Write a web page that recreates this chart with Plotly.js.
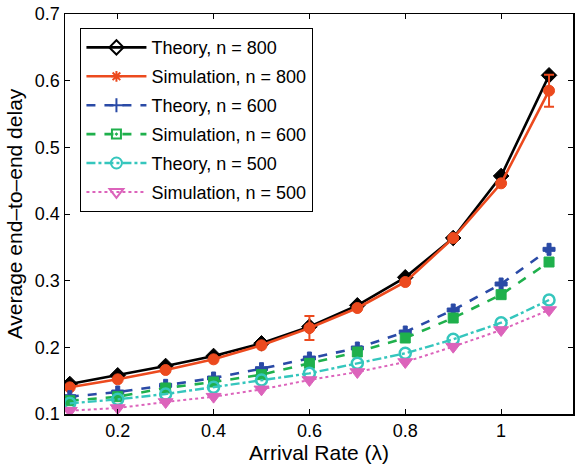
<!DOCTYPE html>
<html>
<head>
<meta charset="utf-8">
<script src="https://cdn.plot.ly/plotly-3.0.1.min.js"></script>
<style>html,body{margin:0;padding:0;background:#fff;}#chart{width:575px;height:468px;}</style>
</head>
<body>
<div id="chart"></div>
<script>
const lambdaVals = [0.1, 0.2, 0.3, 0.4, 0.5, 0.6, 0.7, 0.8, 0.9, 1.0, 1.1];
const theory800 = [0.145, 0.158, 0.172, 0.187, 0.206, 0.231, 0.263, 0.305, 0.364, 0.457, 0.608];
const sim800    = [0.140, 0.152, 0.166, 0.182, 0.203, 0.229, 0.259, 0.298, 0.364, 0.446, 0.585];
const sim800Err = [0, 0, 0, 0, 0, 0.018, 0, 0, 0, 0, 0.024];
const theory600 = [0.126, 0.133, 0.143, 0.154, 0.168, 0.184, 0.199, 0.223, 0.256, 0.295, 0.347];
const sim600    = [0.120, 0.126, 0.139, 0.148, 0.159, 0.176, 0.193, 0.214, 0.244, 0.279, 0.328];
const theory500 = [0.116, 0.122, 0.130, 0.140, 0.151, 0.161, 0.176, 0.191, 0.212, 0.237, 0.271];
const sim500    = [0.105, 0.109, 0.118, 0.126, 0.137, 0.151, 0.163, 0.178, 0.201, 0.226, 0.256];
const names = ["Theory, n = 800", "Simulation, n = 800", "Theory, n = 600", "Simulation, n = 600", "Theory, n = 500", "Simulation, n = 500"];
const yTicks = [0.1, 0.2, 0.3, 0.4, 0.5, 0.6, 0.7];
const xTicks = [0.2, 0.4, 0.6, 0.8, 1];

const C = {
  black: "#000000",
  orange: "#ec4a1e",
  blue: "#2a4aa6",
  green: "#1fb04c",
  cyan: "#35c6bd",
  pink: "#dc63bb"
};

const series = [
  {y: theory800, color: C.black, dash: "solid", w: 2.6, sym: "diamond", size: 12, lsym: "diamond-open", lsize: 11},
  {y: sim800, color: C.orange, dash: "solid", w: 2.6, sym: "circle", size: 11, lsym: "asterisk-open", lsize: 9, err: sim800Err},
  {y: theory600, color: C.blue, dash: "dash", w: 2.6, sym: "cross", size: 10, lsym: "cross-thin-open", lsize: 10},
  {y: sim600, color: C.green, dash: "dash", w: 2.6, sym: "square", size: 10, lsym: "square-open-dot", lsize: 9},
  {y: theory500, color: C.cyan, dash: "dashdot", w: 2.4, sym: "circle-open", size: 11, lsym: "circle-open", lsize: 11},
  {y: sim500, color: C.pink, dash: "dot", w: 2.0, sym: "triangle-down", size: 13, lsym: "triangle-down-open", lsize: 12}
];

const traces = [];
series.forEach((s, i) => {
  const t = {
    x: lambdaVals, y: s.y, type: "scatter", mode: "lines+markers",
    name: names[i], showlegend: false,
    line: {color: s.color, dash: s.dash, width: s.w},
    marker: {symbol: s.sym, size: s.size, color: s.color, line: {color: s.color, width: s.sym.indexOf("open") >= 0 ? 2.5 : 1}}
  };
  if (s.err) {
    t.error_y = {type: "data", array: s.err, visible: true, color: s.color, thickness: 2, width: 5};
  }
  traces.push(t);
});
series.forEach((s, i) => {
  traces.push({
    x: [null], y: [null], type: "scatter", mode: "lines+markers",
    name: names[i], legendgroup: "g" + i, showlegend: true,
    line: {color: s.color, dash: s.dash, width: s.w},
    marker: {symbol: s.lsym, size: s.lsize, color: s.color, line: {color: s.color, width: 2}}
  });
});

const fontFam = "Liberation Sans, Arial, Helvetica, sans-serif";
const layout = {
  width: 575, height: 468,
  margin: {l: 65, r: 2, t: 14, b: 54},
  paper_bgcolor: "#fff", plot_bgcolor: "#fff",
  font: {family: fontFam, size: 18, color: "#000"},
  showlegend: true,
  legend: {
    x: 0.03, y: 0.965, xanchor: "left", yanchor: "top",
    bordercolor: "#000", borderwidth: 1.2, bgcolor: "#fff",
    font: {family: fontFam, size: 18, color: "#000"},
    itemwidth: 60, tracegroupgap: 2.5
  },
  xaxis: {
    range: [0.09, 1.15], tickvals: xTicks, ticktext: xTicks.map(String),
    ticks: "inside", ticklen: 5, tickwidth: 1, tickcolor: "#000",
    showline: true, linecolor: "#000", linewidth: 1.5, mirror: "ticks",
    showgrid: false, zeroline: false,
    tickfont: {size: 18},
    title: {text: "Arrival Rate (λ)", font: {size: 21}, standoff: 4}
  },
  yaxis: {
    range: [0.1, 0.7], tickvals: yTicks, ticktext: yTicks.map(v => v.toFixed(1)),
    ticks: "inside", ticklen: 5, tickwidth: 1, tickcolor: "#000",
    showline: true, linecolor: "#000", linewidth: 1.5, mirror: "ticks",
    showgrid: false, zeroline: false,
    tickfont: {size: 18},
    title: {text: "Average end–to–end delay", font: {size: 21}, standoff: 6}
  }
};

Plotly.newPlot("chart", traces, layout, {displayModeBar: false, staticPlot: true});
</script>
</body>
</html>
